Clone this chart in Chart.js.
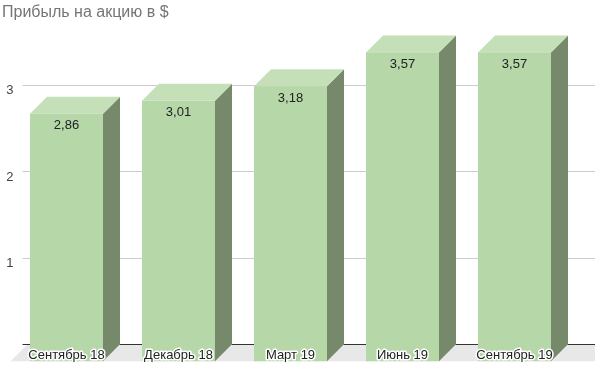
<!DOCTYPE html>
<html>
<head>
<meta charset="utf-8">
<script src="https://cdn.jsdelivr.net/npm/chart.js@4.4.1/dist/chart.umd.min.js"></script>
<style>
  html, body { margin: 0; padding: 0; background: #ffffff; }
</style>
</head>
<body>
<canvas id="eps-chart" width="595" height="366"></canvas>
<script>
const periods = ["Сентябрь 18", "Декабрь 18", "Март 19", "Июнь 19", "Сентябрь 19"];
const epsValues = [2.86, 3.01, 3.18, 3.57, 3.57];
const yTicks = [1, 2, 3];

const FONT = "'Liberation Sans', Arial, sans-serif";
const DEPTH = 17;

// floor, gridlines and 3D boxes drawn from the bar elements
const box3d = {
  id: "box3d",
  beforeDatasetsDraw(chart) {
    const ctx = chart.ctx;
    const area = chart.chartArea;
    const y = chart.scales.y;
    const y0 = y.getPixelForValue(0);
    ctx.save();
    // floor
    ctx.fillStyle = "#e8e8e8";
    ctx.beginPath();
    ctx.moveTo(area.left, y0);
    ctx.lineTo(chart.width + DEPTH, y0);
    ctx.lineTo(chart.width, y0 + DEPTH);
    ctx.lineTo(area.left - DEPTH, y0 + DEPTH);
    ctx.closePath();
    ctx.fill();
    // gridlines
    ctx.strokeStyle = "#cccccc";
    ctx.lineWidth = 1;
    yTicks.forEach(v => {
      const py = Math.round(y.getPixelForValue(v)) + 0.5;
      ctx.beginPath();
      ctx.moveTo(area.left - 5, py);
      ctx.lineTo(chart.width, py);
      ctx.stroke();
    });
    ctx.strokeStyle = "#333333";
    ctx.beginPath();
    ctx.moveTo(area.left - 5, Math.round(y0) + 0.5);
    ctx.lineTo(chart.width, Math.round(y0) + 0.5);
    ctx.stroke();
    ctx.restore();
  },
  afterDatasetsDraw(chart) {
    const ctx = chart.ctx;
    const meta = chart.getDatasetMeta(0);
    ctx.save();
    meta.data.forEach((bar, i) => {
      const p = bar.getProps(["x", "y", "base", "width"], true);
      const bl = p.x - p.width / 2, br = p.x + p.width / 2;
      const bt = p.y, bb = p.base;
      const fl = bl - DEPTH, fr = br - DEPTH, ft = bt + DEPTH, fb = bb + DEPTH;
      // side
      ctx.fillStyle = "#76896b";
      ctx.beginPath();
      ctx.moveTo(fr, ft); ctx.lineTo(br, bt); ctx.lineTo(br, bb); ctx.lineTo(fr, fb);
      ctx.closePath(); ctx.fill();
      // top
      ctx.fillStyle = "#c5e0b9";
      ctx.beginPath();
      ctx.moveTo(fl, ft); ctx.lineTo(bl, bt); ctx.lineTo(br, bt); ctx.lineTo(fr, ft);
      ctx.closePath(); ctx.fill();
      // front
      ctx.fillStyle = "#b6d7a8";
      ctx.fillRect(fl, ft, fr - fl, fb - ft);

      // value label
      ctx.font = "13px " + FONT;
      ctx.textAlign = "center";
      ctx.textBaseline = "middle";
      ctx.fillStyle = "#222222";
      ctx.fillText(epsValues[i].toFixed(2).replace(".", ","), (fl + fr) / 2, ft + 12);

      // category label with halo
      const ly = bb + 11;
      ctx.lineWidth = 3;
      ctx.lineJoin = "round";
      ctx.strokeStyle = "#ffffff";
      ctx.strokeText(periods[i], (fl + fr) / 2, ly);
      ctx.fillText(periods[i], (fl + fr) / 2, ly);
    });
    ctx.restore();
  }
};

new Chart(document.getElementById("eps-chart"), {
  type: "bar",
  data: {
    labels: periods,
    datasets: [{
      data: epsValues,
      backgroundColor: "rgba(0,0,0,0)",
      borderWidth: 0,
      categoryPercentage: 1,
      barPercentage: 0.652
    }]
  },
  options: {
    responsive: false,
    animation: false,
    layout: { padding: { left: 2, right: 7.5, top: 0, bottom: 21 } },
    plugins: {
      legend: { display: false },
      tooltip: { enabled: false },
      title: {
        display: true,
        text: "Прибыль на акцию в $",
        align: "start",
        color: "#757575",
        font: { family: FONT, size: 16, weight: "normal" },
        padding: { top: 3, bottom: 8 }
      }
    },
    scales: {
      x: { display: false },
      y: {
        min: 0,
        max: 3.63,
        afterFit(scale) { scale.width = 25.5; },
        border: { display: false },
        grid: { display: false, drawTicks: false },
        ticks: {
          stepSize: 1,
          padding: 14,
          labelOffset: 6,
          color: "#444444",
          font: { family: FONT, size: 13 },
          callback: v => yTicks.includes(v) ? String(v) : ""
        }
      }
    }
  },
  plugins: [box3d]
});
</script>
</body>
</html>
